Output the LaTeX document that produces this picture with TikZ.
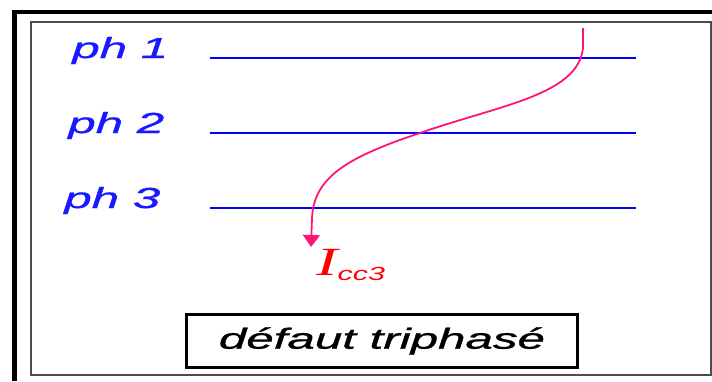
\documentclass[tikz,border=0pt]{standalone}
\usepackage{fontspec}
\setmainfont{Liberation Sans}
\newfontfamily\serifit{Liberation Serif}
\newfontfamily\labelfont[FakeBold=0.8]{Liberation Sans}
\usepackage{xcolor}
\usetikzlibrary{arrows.meta,calc}

\definecolor{phblue}{RGB}{0,0,255}
\definecolor{labelblue}{RGB}{25,25,255}
\definecolor{faultpink}{RGB}{255,20,120}
\definecolor{iccred}{RGB}{255,0,0}

\tikzset{
  phlabel/.style={anchor=base west,inner sep=0pt,xscale=1.7,text=labelblue,
    font=\labelfont\itshape\fontsize{29}{32}\selectfont},
  phline/.style={phblue,line width=1.4pt},
  faultline/.style={faultpink,line width=1.8pt,-{Triangle[width=17pt,length=12pt]}},
  titlebox/.style={draw,line width=3pt,xscale=1.7,minimum width=230.5pt,minimum height=53pt,
    inner sep=0pt,font=\labelfont\itshape\fontsize{29}{32}\selectfont}
}

\begin{document}
\begin{tikzpicture}[x=1pt,y=-1pt]

\useasboundingbox (0,0) rectangle (712,381);

% frames
\draw[line width=4.5pt] (14.5,381) -- (14.5,12) -- (712,12);
\draw[black!70,line width=2pt] (30.5,22) rectangle (710.5,375);

% phases
\foreach \n/\y/\lx in {1/58/72, 2/133/68, 3/208/64}{
    \node[phlabel] (ph\n) at (\lx,\y) {ph \n};
    \draw[phline] (210,\y) -- (636,\y);
}

% short-circuit current
\coordinate (fault) at (583,28);
\coordinate (tip) at (311,247);
\draw[faultline] (fault) -- (583,48) .. controls (578,95) and (500,105) .. (420,133)
    .. controls (345,158) and (314,178) .. (312,218) -- (tip);

\node[anchor=base west,inner sep=0pt,xscale=1.6,text=iccred] (icc) at (316,275)
    {{\serifit\itshape\fontsize{40}{40}\selectfont I}\raisebox{-5pt}{\itshape\fontsize{19}{19}\selectfont cc3}};

\node[titlebox] (defaut) at (382,341) {défaut triphasé};

\end{tikzpicture}
\end{document}
